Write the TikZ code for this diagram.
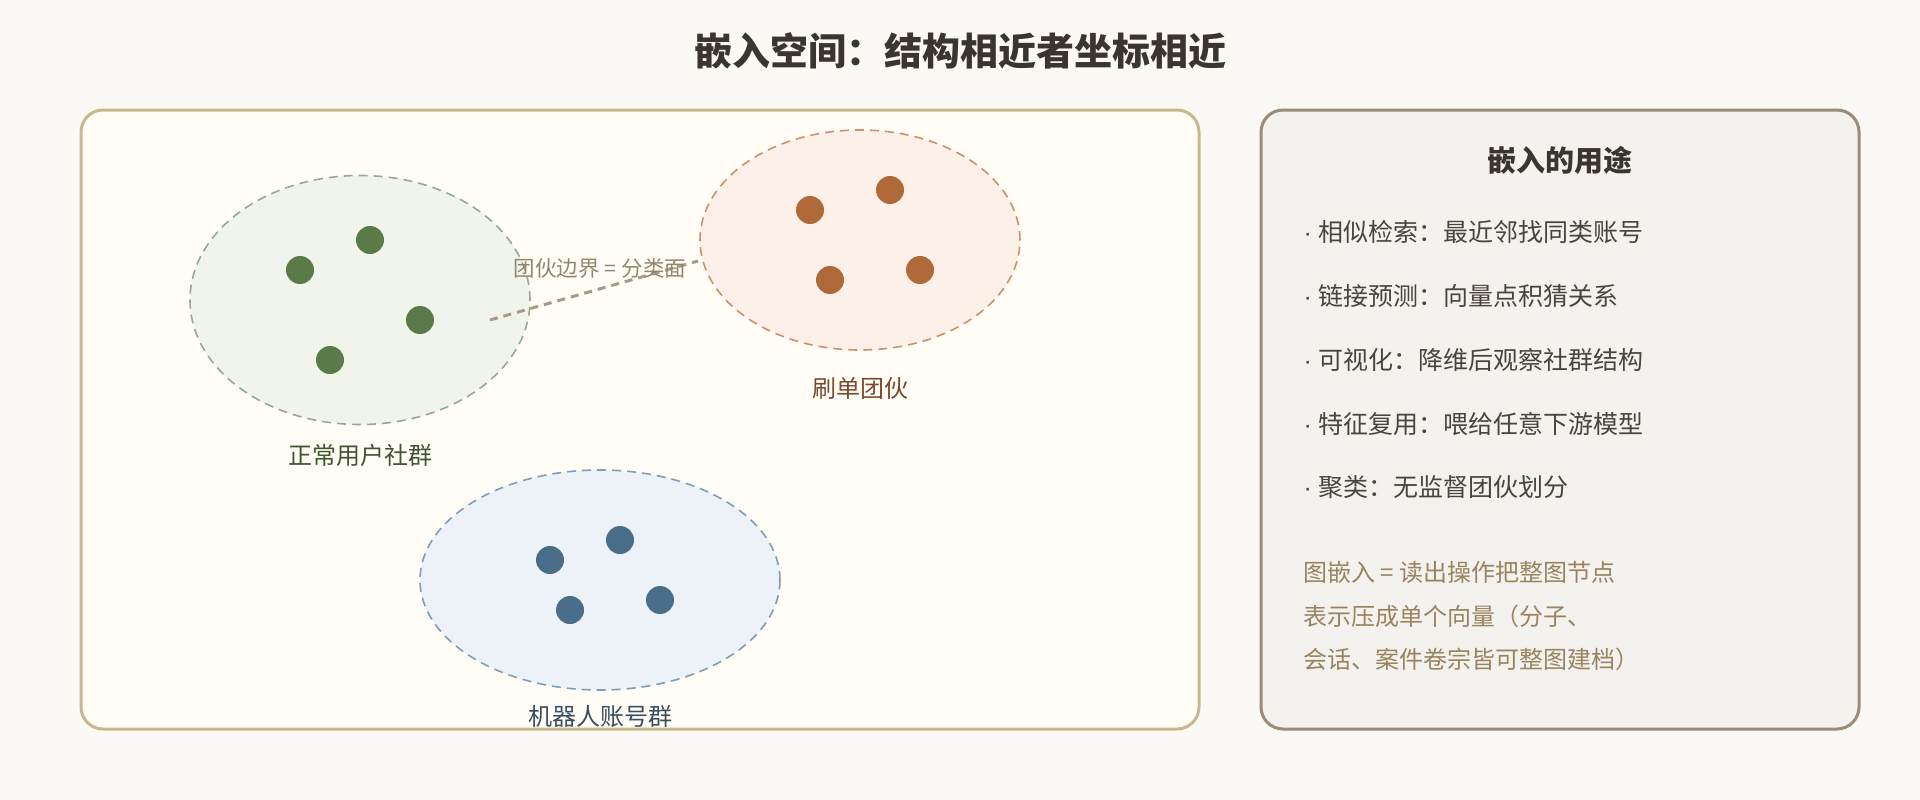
\documentclass[tikz,border=0pt]{standalone}
\usepackage{fontspec}
\setmainfont{Noto Sans CJK SC}
\newfontfamily\bulletfont{Liberation Sans}
\usetikzlibrary{shapes.geometric}
\definecolor{bg}{HTML}{FAF9F5}
\definecolor{lpfill}{HTML}{FFFDF6}
\definecolor{lpdraw}{HTML}{C9B98A}
\definecolor{rpfill}{HTML}{F3F2EE}
\definecolor{rpdraw}{HTML}{9A8C76}
\definecolor{gfill}{HTML}{F0F4EB}
\definecolor{gdraw}{HTML}{94AC8E}
\definecolor{gdot}{HTML}{5B7A4A}
\definecolor{glab}{HTML}{3E5630}
\definecolor{ofill}{HTML}{FDF0E8}
\definecolor{odraw}{HTML}{CC916C}
\definecolor{odot}{HTML}{B06A3A}
\definecolor{olab}{HTML}{7A4A2E}
\definecolor{bfill}{HTML}{ECF2F7}
\definecolor{bdraw}{HTML}{7E9DB6}
\definecolor{bdot}{HTML}{4A6E8A}
\definecolor{blab}{HTML}{3A4E62}
\definecolor{titlec}{HTML}{3A3530}
\definecolor{itemc}{HTML}{4A4440}
\definecolor{notec}{HTML}{9A8460}
\definecolor{bndline}{HTML}{A89A86}
\definecolor{bndlab}{HTML}{928670}
\newcommand{\bul}{{\bulletfont ·\ }}
\tikzset{
  panel/.style={rounded corners=22pt, line width=3pt},
  cluster/.style={ellipse, dashed, line width=1.6pt, dash pattern=on 9pt off 6pt, inner sep=0pt},
  pt/.style={circle, minimum size=28pt, inner sep=0pt},
  clab/.style={font=\fontsize{24}{28}\selectfont, anchor=center},
  item/.style={font=\fontsize{25}{30}\selectfont, text=itemc, anchor=west},
  note/.style={font=\fontsize{24}{28}\selectfont, text=notec, anchor=west},
}
\begin{document}
\begin{tikzpicture}[x=1pt,y=-1pt]
\fill[bg] (0,0) rectangle (1920,800);
\useasboundingbox (0,0) rectangle (1920,800);
\node[font=\fontsize{38}{44}\selectfont\bfseries, text=titlec] (title) at (960,51) {嵌入空间：结构相近者坐标相近};
% panels
\draw[panel, fill=lpfill, draw=lpdraw] (81,110) rectangle (1199,729);
\node[inner sep=0pt] (lp) at (640,420) {};
\draw[panel, fill=rpfill, draw=rpdraw] (1261,110) rectangle (1859,729);
\node[inner sep=0pt] (rp) at (1560,420) {};
% clusters
\node[cluster, fill=gfill, draw=gdraw, minimum width=340pt, minimum height=249pt] (cg) at (360,300) {};
\node[cluster, fill=ofill, draw=odraw, minimum width=320pt, minimum height=220pt] (co) at (860,240) {};
\node[cluster, fill=bfill, draw=bdraw, minimum width=360pt, minimum height=220pt] (cb) at (600,580) {};
% dots
\node[pt, fill=gdot] (g1) at (300,270) {};
\node[pt, fill=gdot] (g2) at (370,240) {};
\node[pt, fill=gdot] (g3) at (420,320) {};
\node[pt, fill=gdot] (g4) at (330,360) {};
\node[pt, fill=odot] (o1) at (810,210) {};
\node[pt, fill=odot] (o2) at (890,190) {};
\node[pt, fill=odot] (o3) at (920,270) {};
\node[pt, fill=odot] (o4) at (830,280) {};
\node[pt, fill=bdot] (b1) at (550,560) {};
\node[pt, fill=bdot] (b2) at (620,540) {};
\node[pt, fill=bdot] (b3) at (660,600) {};
\node[pt, fill=bdot] (b4) at (570,610) {};
% labels
\node[clab, text=glab] (lg) at (360,455) {正常用户社群};
\node[clab, text=olab] (lo) at (860,388) {刷单团伙};
\node[clab, text=blab] (lb) at (600,716) {机器人账号群};
% boundary
\coordinate (bs) at (490,320);
\coordinate (be) at (698,261);
\draw[bndline, line width=3pt, dash pattern=on 8pt off 6pt] (bs) -- (be);
\node[font=\fontsize{21.5}{26}\selectfont, text=bndlab] (bl) at (600,268) {团伙边界 = 分类面};
% right panel
\node[font=\fontsize{29}{34}\selectfont\bfseries, text=titlec] (rt) at (1560,160) {嵌入的用途};
\node[item] (i1) at (1300,232) {\bul 相似检索：最近邻找同类账号};
\node[item] (i2) at (1300,296) {\bul 链接预测：向量点积猜关系};
\node[item] (i3) at (1300,360) {\bul 可视化：降维后观察社群结构};
\node[item] (i4) at (1300,424) {\bul 特征复用：喂给任意下游模型};
\node[item] (i5) at (1300,487) {\bul 聚类：无监督团伙划分};
\node[note] (n1) at (1300,572) {图嵌入 = 读出操作把整图节点};
\node[note] (n2) at (1300,616) {表示压成单个向量（分子、};
\node[note] (n3) at (1300,659) {会话、案件卷宗皆可整图建档）};
\end{tikzpicture}
\end{document}
